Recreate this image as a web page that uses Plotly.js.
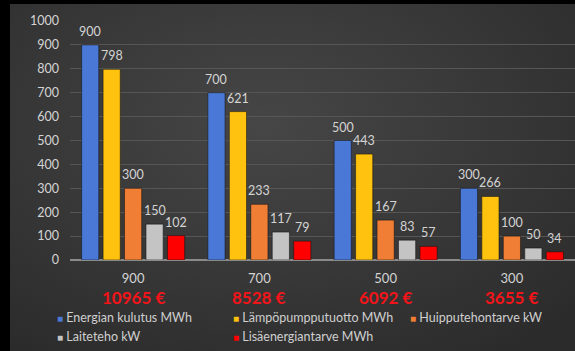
<!DOCTYPE html>
<html>
<head>
<meta charset="utf-8">
<script src="https://cdn.plot.ly/plotly-3.0.1.min.js"></script>
<style>
  html, body { margin: 0; padding: 0; background: #000; }
  #frame {
    position: absolute; left: 10px; top: 4px; width: 565px; height: 347px;
    background: radial-gradient(ellipse 75% 80% at 45% 35%, #464646 0%, #3a3a3a 45%, #2b2b2b 100%);
  }
  #chart { position: absolute; left: 0; top: 0; width: 575px; height: 351px; }
</style>
</head>
<body>
<div id="frame"></div>
<div id="chart"></div>
<script>
// Category labels along the x axis and the yearly cost under each one
const categories = ['900', '700', '500', '300'];
const costs = ['10965 €', '8528 €', '6092 €', '3655 €'];

// Series
const seriesNames = [
  'Energian kulutus MWh',
  'Lämpöpumpputuotto MWh',
  'Huipputehontarve kW',
  'Laiteteho kW',
  'Lisäenergiantarve MWh'
];
const energianKulutus = [900, 700, 500, 300];
const lampopumppuTuotto = [798, 621, 443, 266];
const huipputehontarve = [300, 233, 167, 100];
const laiteteho = [150, 117, 83, 50];
const lisaenergiantarve = [102, 79, 57, 34];

// Y axis ticks
const yTicks = [0, 100, 200, 300, 400, 500, 600, 700, 800, 900, 1000];

const seriesValues = [energianKulutus, lampopumppuTuotto, huipputehontarve, laiteteho, lisaenergiantarve];
const colors = ['#4a78d6', '#ffc20e', '#f07f35', '#c4c4c4', '#ff0000'];

const FONT = 'Lato, "Open Sans", sans-serif';
const W = 575, H = 351;
const M = { l: 70, r: 0, t: 21, b: 91 };
const plotW = W - M.l - M.r, plotH = H - M.t - M.b;
const px = x => (x - M.l) / plotW;
const py = y => (H - M.b - y) / plotH;

const BARGAP = 0.15;
const groupWidth = 1 - BARGAP;
const slot = groupWidth / seriesValues.length;

const traces = seriesValues.map((vals, i) => ({
  type: 'bar',
  name: seriesNames[i],
  x: categories,
  y: vals,
  marker: { color: colors[i], line: { color: 'rgba(20,20,20,0.55)', width: 1 } },
  hoverinfo: 'skip'
}));

const annotations = [];
// value labels above each bar, placed at the bar's slot within its group
seriesValues.forEach((vals, j) => {
  vals.forEach((v, i) => {
    annotations.push({
      xref: 'x', yref: 'y',
      x: i - groupWidth / 2 + (j + 0.5) * slot, y: v,
      xanchor: 'center', yanchor: 'middle', yshift: 13.5,
      showarrow: false, text: String(v),
      font: { family: FONT, size: 12.5, color: '#d4d4d4' }
    });
  });
});
// cost labels under each category
costs.forEach((c, i) => {
  annotations.push({
    xref: 'paper', yref: 'paper', x: (i + 0.5) / categories.length, y: py(297),
    xanchor: 'center', yanchor: 'middle', showarrow: false,
    text: '<b>' + c + '</b>',
    font: { family: FONT, size: 17, color: '#f21419' }
  });
});
// legend entries: square marker followed by the series name
const legendPos = [[55, 317], [231, 317], [408, 317], [55, 336], [231, 336]];
seriesNames.forEach((n, i) => {
  annotations.push({
    xref: 'paper', yref: 'paper', x: px(legendPos[i][0]), y: py(legendPos[i][1]),
    xanchor: 'left', yanchor: 'middle', showarrow: false,
    text: '<span style="color:' + colors[i] + ';font-size:10px">■</span> ' + n,
    font: { family: FONT, size: 12.5, color: '#cfcfcf' }
  });
});

const layout = {
  width: W, height: H,
  margin: M,
  paper_bgcolor: 'rgba(0,0,0,0)',
  plot_bgcolor: 'rgba(0,0,0,0)',
  showlegend: false,
  barmode: 'group',
  bargap: BARGAP,
  bargroupgap: 0.2,
  font: { family: FONT, color: '#d4d4d4' },
  xaxis: {
    type: 'category',
    range: [-0.5, 3.5],
    showgrid: false,
    showline: false,
    ticks: '',
    ticklabelstandoff: 9,
    tickfont: { family: FONT, size: 13, color: '#d4d4d4' },
    fixedrange: true
  },
  yaxis: {
    range: [0, 1000],
    tickvals: yTicks,
    ticktext: yTicks.map(String),
    showgrid: true,
    gridcolor: '#565656',
    gridwidth: 1,
    zeroline: true,
    zerolinecolor: '#8a8a8a',
    zerolinewidth: 2,
    showline: false,
    ticks: '',
    ticklabelstandoff: 10,
    tickfont: { family: FONT, size: 12.5, color: '#d4d4d4' },
    fixedrange: true
  },
  annotations: annotations
};

Plotly.newPlot('chart', traces, layout, { staticPlot: true, displayModeBar: false });
</script>
</body>
</html>
